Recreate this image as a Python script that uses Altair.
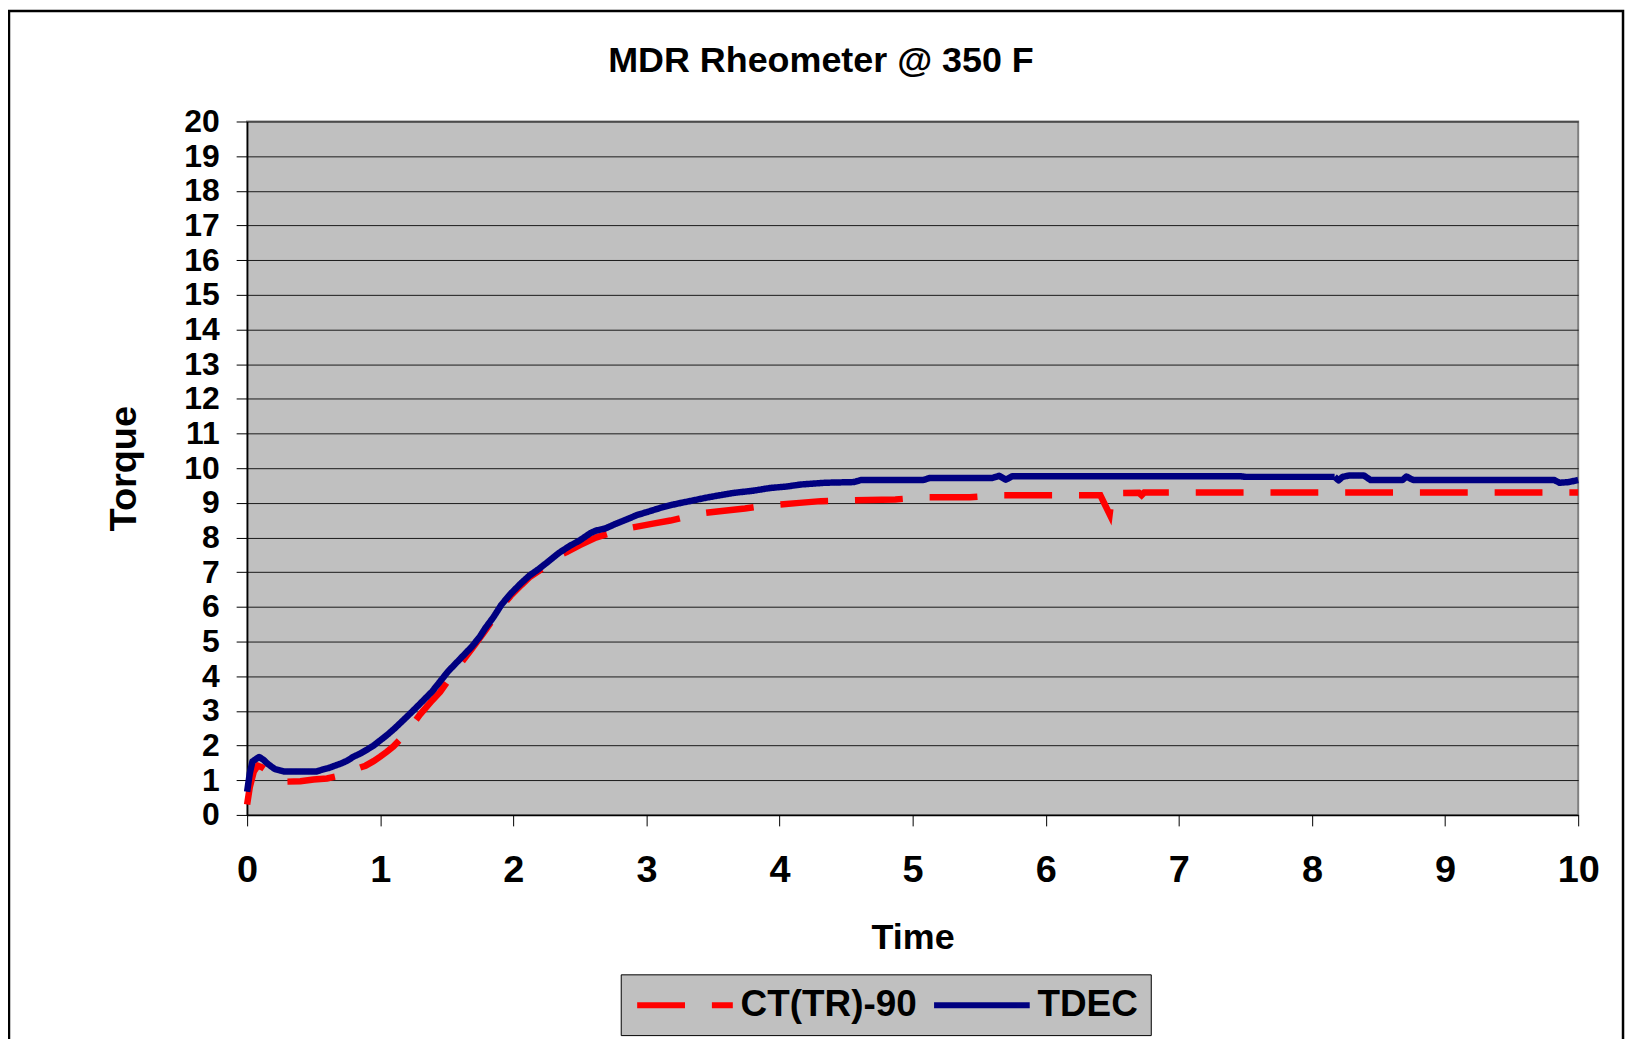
import altair as alt
import pandas as pd

# ---- data ----
series_names = ["CT(TR)-90", "TDEC"]
series_colors = ["#ff0000", "#000080"]

ct_time = [0.00, 0.02, 0.05, 0.08, 0.11, 0.15, 0.20, 0.25, 0.30, 0.40, 0.50, 0.60, 0.69,
           0.80, 0.89, 0.95, 1.00, 1.05, 1.10, 1.15, 1.22, 1.30, 1.39, 1.45, 1.50, 1.55,
           1.61, 1.69, 1.79, 1.91, 1.98, 2.06, 2.12, 2.19, 2.26, 2.31, 2.40, 2.50, 2.62,
           2.72, 2.82, 2.95, 3.05, 3.18, 3.30, 3.40, 3.55, 3.74, 3.85, 3.96, 4.15, 4.31,
           4.52, 4.87, 5.08, 5.43, 5.64, 6.41, 6.48, 6.50, 6.70, 6.72, 6.74, 10.00]
ct_torque = [0.30, 0.80, 1.25, 1.42, 1.38, 1.28, 1.15, 1.03, 0.96, 0.97, 1.02, 1.05, 1.13,
             1.30, 1.42, 1.55, 1.68, 1.82, 1.98, 2.18, 2.49, 2.90, 3.30, 3.55, 3.82, 4.05,
             4.40, 4.80, 5.32, 6.00, 6.32, 6.63, 6.85, 7.03, 7.22, 7.42, 7.58, 7.78, 8.00,
             8.12, 8.24, 8.33, 8.40, 8.49, 8.60, 8.69, 8.76, 8.84, 8.90, 8.94, 9.00, 9.05,
             9.07, 9.10, 9.16, 9.16, 9.22, 9.22, 8.67, 9.28, 9.29, 9.22, 9.30, 9.30]

tdec_time = [0.00, 0.02, 0.04, 0.07, 0.09, 0.12, 0.15, 0.18, 0.21, 0.25, 0.28, 0.52, 0.56,
             0.61, 0.66, 0.71, 0.75, 0.80, 0.85, 0.90, 0.95, 0.99, 1.05, 1.11, 1.17, 1.24,
             1.31, 1.39, 1.45, 1.51, 1.60, 1.69, 1.75, 1.79, 1.85, 1.91, 1.98, 2.06, 2.12,
             2.19, 2.26, 2.34, 2.42, 2.50, 2.58, 2.62, 2.69, 2.76, 2.85, 2.93, 3.00, 3.10,
             3.20, 3.26, 3.35, 3.45, 3.55, 3.66, 3.80, 3.93, 4.05, 4.16, 4.34, 4.56, 4.61,
             5.08, 5.13, 5.60, 5.65, 5.70, 5.75, 7.46, 7.50, 8.17, 8.20, 8.23, 8.28, 8.39,
             8.44, 8.68, 8.71, 8.76, 9.82, 9.86, 9.93, 10.00]
tdec_torque = [0.67, 1.20, 1.54, 1.62, 1.67, 1.60, 1.49, 1.40, 1.32, 1.28, 1.25, 1.25, 1.30,
               1.35, 1.42, 1.49, 1.56, 1.68, 1.77, 1.88, 2.00, 2.12, 2.30, 2.50, 2.72, 2.98,
               3.25, 3.56, 3.85, 4.14, 4.50, 4.86, 5.15, 5.39, 5.70, 6.06, 6.38, 6.69, 6.90,
               7.09, 7.30, 7.55, 7.75, 7.92, 8.13, 8.20, 8.26, 8.38, 8.52, 8.65, 8.73, 8.85,
               8.95, 9.00, 9.07, 9.15, 9.22, 9.29, 9.35, 9.43, 9.47, 9.53, 9.58, 9.60, 9.66,
               9.66, 9.72, 9.72, 9.78, 9.67, 9.77, 9.77, 9.75, 9.75, 9.65, 9.75, 9.79, 9.79,
               9.66, 9.66, 9.76, 9.66, 9.66, 9.58, 9.60, 9.66]

x_ticks = list(range(0, 11))
y_ticks = list(range(0, 21))

df = pd.DataFrame({
    "Time": ct_time + tdec_time,
    "Torque": ct_torque + tdec_torque,
    "series": [series_names[0]] * len(ct_time) + [series_names[1]] * len(tdec_time),
})

FONT = "Liberation Sans, Arial, Helvetica, sans-serif"

x_enc = alt.X("Time:Q",
              scale=alt.Scale(domain=[0, 10], nice=False, zero=False),
              axis=alt.Axis(values=x_ticks, format="d", title="Time", grid=False,
                            tickSize=11, labelPadding=56, labelBaseline="alphabetic",
                            labelFontSize=38, labelFlush=False, labelOverlap=False,
                            labelBound=False, titleFontSize=36,
                            titleY=134, titleBaseline="alphabetic"))
y_enc = alt.Y("Torque:Q",
              scale=alt.Scale(domain=[0, 20], nice=False),
              axis=alt.Axis(values=y_ticks, format="d", title="Torque", grid=True,
                            tickSize=11, labelPadding=17, labelFlush=False,
                            labelFontSize=32,
                            labelOverlap=False, labelBound=False, titleFontSize=38,
                            titleX=-112, titleY=348, titleBaseline="alphabetic",
                            titleAngle=270, titleAlign="center"))
color_enc = alt.Color("series:N",
                      scale=alt.Scale(domain=series_names, range=series_colors),
                      legend=alt.Legend(title=None, orient="none", legendX=375, legendY=856,
                                        direction="horizontal", columns=2,
                                        symbolType="M-3,0H3", symbolSize=1024,
                                        symbolStrokeWidth=6, symbolOffset=33.5,
                                        labelOffset=36.8, labelFontSize=37, labelFont=FONT,
                                        labelFontWeight="bold", labelColor="black",
                                        labelLimit=0, fillColor="#c0c0c0",
                                        strokeColor="black", padding=12,
                                        columnPadding=4))
dash_enc = alt.StrokeDash("series:N",
                          scale=alt.Scale(domain=series_names, range=[[48, 27], [1, 0]]))

base = alt.Chart(df).encode(x=x_enc, y=y_enc, color=color_enc, strokeDash=dash_enc)

red = base.transform_filter(alt.datum.series == series_names[0]).mark_line(
    strokeWidth=6.5, strokeCap="butt")
blue = base.transform_filter(alt.datum.series == series_names[1]).mark_line(
    strokeWidth=6.5, strokeJoin="round")

frame = alt.Chart(pd.DataFrame({"frame": [0]})).mark_rect(
    fillOpacity=0, stroke="black", strokeWidth=2.5).encode(
    x=alt.value(-239), x2=alt.value(1381), y=alt.value(-111), y2=alt.value(940))

chart = alt.layer(red, blue, frame).properties(
    width=1336, height=696,
    title=alt.TitleParams(text="MDR Rheometer @ 350 F", fontSize=36, font=FONT,
                          fontWeight="bold", color="black", anchor="middle",
                          dx=-92, offset=-99, baseline="alphabetic"),
    autosize=alt.AutoSizeParams(type="none"),
    padding={"left": 240, "top": 112, "right": 50, "bottom": 223},
    background="white",
).configure_view(
    fill="#c0c0c0", stroke="#808080", strokeWidth=2
).configure_axis(
    labelFont=FONT, labelFontSize=36, labelFontWeight="bold", labelColor="black",
    titleFont=FONT, titleFontSize=36, titleFontWeight="bold", titleColor="black",
    tickColor="black", tickWidth=1, domainColor="black", domainWidth=1.5,
    gridColor="#1a1a1a", gridWidth=1
)

chart.save("out.html", embed_options={"renderer": "svg", "actions": False})
